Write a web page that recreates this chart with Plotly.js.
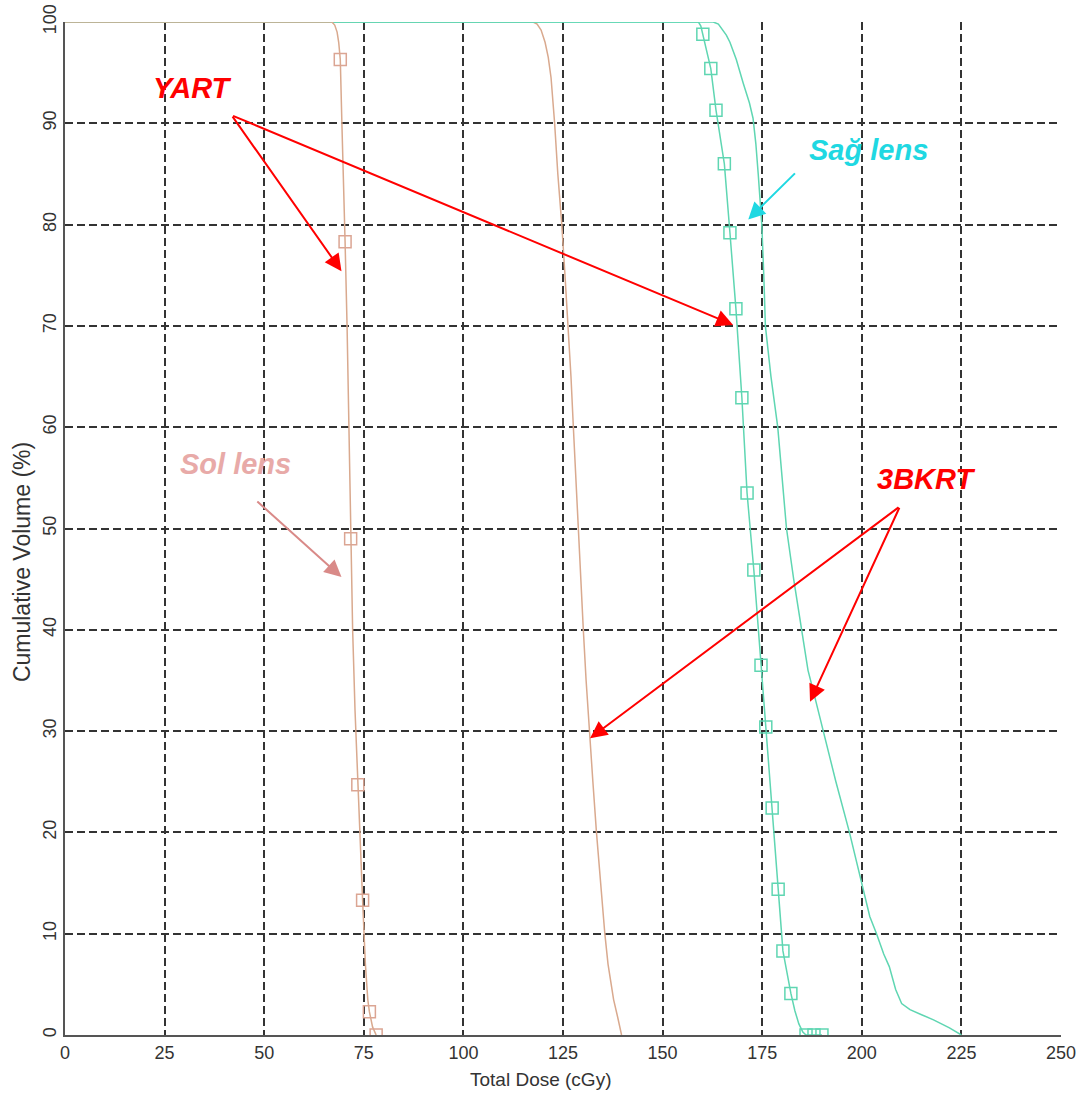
<!DOCTYPE html>
<html>
<head>
<meta charset="utf-8">
<script src="https://cdn.plot.ly/plotly-3.0.1.min.js"></script>
<style>
html,body{margin:0;padding:0;background:#fff;}
#chart{width:1089px;height:1102px;}
</style>
</head>
<body>
<div id="chart"></div>
<script>
// Sol lens, YART (line + square markers)
const solYartDose = [0, 67, 67.7, 68.3, 68.7, 69.1, 69.5, 70, 70.3, 70.8, 71.3, 71.7, 72.2, 72.8, 73.5, 74.1, 74.7, 75.4, 76.0, 76.4, 77.2, 78.1];
const solYartVol  = [100, 100, 99.7, 99, 98, 96.3, 90, 84, 78.3, 70, 60, 49, 40, 32, 24.7, 18, 13.3, 7, 3.5, 2.3, 0.8, 0];
const solYartMarkDose = [69.1, 70.3, 71.7, 73.5, 74.7, 76.4, 78.1];
const solYartMarkVol  = [96.3, 78.3, 49, 24.7, 13.3, 2.3, 0];

// Sol lens, 3BKRT
const sol3bDose = [0, 117.5, 118.5, 119.5, 120.5, 121.3, 122, 122.5, 122.9, 123.7, 124.7, 125.5, 126.3, 127, 127.6, 128.2, 128.8, 129.5, 130.1, 130.8, 131.6, 132.5, 133.4, 134.4, 135.5, 136.3, 137.0, 137.7, 138.7, 139.7];
const sol3bVol  = [100, 100, 99.8, 99.2, 98, 96.5, 94.5, 92, 90, 85, 80, 75, 70, 65, 60, 55, 50, 45, 40, 35, 30, 25, 20, 15, 10, 7, 5, 3.5, 1.8, 0];

// Sağ lens, YART (line + square markers)
const sagYartDose = [0, 159, 159.6, 160.1, 162.1, 163.4, 165.5, 166.9, 168.4, 169.9, 171.2, 172.9, 174.7, 175.9, 177.5, 179.0, 180.2, 182.2, 183.2, 184.2, 185.2, 186.0, 190.0];
const sagYartVol  = [100, 100, 99.6, 98.8, 95.4, 91.3, 86.0, 79.2, 71.7, 62.9, 53.5, 45.9, 36.5, 30.4, 22.4, 14.4, 8.3, 4.1, 2.4, 1.1, 0.3, 0, 0];
const sagYartMarkDose = [160.1, 162.1, 163.4, 165.5, 166.9, 168.4, 169.9, 171.2, 172.9, 174.7, 175.9, 177.5, 179.0, 180.2, 182.2, 186.0, 188.0, 190.0];
const sagYartMarkVol  = [98.8, 95.4, 91.3, 86.0, 79.2, 71.7, 62.9, 53.5, 45.9, 36.5, 30.4, 22.4, 14.4, 8.3, 4.1, 0, 0, 0];

// Sağ lens, 3BKRT
const sag3bDose = [0, 162.7, 164, 165, 166, 166.9, 168.5, 170.2, 171.8, 172.7, 173.4, 174, 174.9, 175.4, 175.8, 177.2, 178.9, 180, 181.1, 182.9, 184.9, 186.5, 187.8, 190.3, 193.5, 196.9, 199.9, 202, 203.7, 205.5, 206.9, 208.5, 210, 212.1, 215, 218, 222, 225];
const sag3bVol  = [100, 100, 99.8, 99.3, 98.7, 98, 96.3, 94, 92, 90.5, 88, 85, 80, 75, 70, 65, 60, 55, 50, 45, 40, 36, 34, 30, 25, 20, 15, 11.7, 10, 8, 6.75, 4.5, 3.1, 2.5, 2, 1.5, 0.7, 0];

const xTicks = [0, 25, 50, 75, 100, 125, 150, 175, 200, 225, 250];
const yTicks = [0, 10, 20, 30, 40, 50, 60, 70, 80, 90, 100];

const brown = '#d9a98e';
const green = '#5fd6b2';

const traces = [
  {x: sol3bDose, y: sol3bVol, mode: 'lines', line: {color: brown, width: 1.5}, hoverinfo: 'skip'},
  {x: sag3bDose, y: sag3bVol, mode: 'lines', line: {color: green, width: 1.5}, hoverinfo: 'skip'},
  {x: sagYartDose, y: sagYartVol, mode: 'lines', line: {color: green, width: 1.5}, hoverinfo: 'skip'},
  {x: sagYartMarkDose, y: sagYartMarkVol, mode: 'markers', marker: {symbol: 'square-open', size: 12, color: green, line: {width: 1.5}}, hoverinfo: 'skip'},
  {x: solYartDose, y: solYartVol, mode: 'lines', line: {color: brown, width: 1.5}, hoverinfo: 'skip'},
  {x: solYartMarkDose, y: solYartMarkVol, mode: 'markers', marker: {symbol: 'square-open', size: 12, color: '#dba593', line: {width: 1.5}}, hoverinfo: 'skip'}
];

const labelFont = (c) => ({family: 'Liberation Sans, Arial, sans-serif', size: 29, color: c, weight: 'bold', style: 'italic'});
const arrow = (x, y, ax, ay, c) => ({x: x, y: y, ax: ax, ay: ay, xref: 'x', yref: 'y', axref: 'x', ayref: 'y', text: '', showarrow: true, arrowhead: 2, arrowsize: 1.7, arrowwidth: 2, arrowcolor: c, standoff: 0});

const annotations = [
  {x: 31.9, y: 93.5, xref: 'x', yref: 'y', text: 'YART', showarrow: false, font: labelFont('#ff0000')},
  {x: 201.8, y: 87.4, xref: 'x', yref: 'y', text: 'Sağ lens', showarrow: false, font: labelFont('#1fd8e2')},
  {x: 42.7, y: 56.4, xref: 'x', yref: 'y', text: 'Sol lens', showarrow: false, font: labelFont('#e8aaa8')},
  {x: 216.1, y: 54.9, xref: 'x', yref: 'y', text: '3BKRT', showarrow: false, font: labelFont('#ff0000')},
  arrow(69.4, 75.4, 41.8, 90.8, '#ff0000'),
  arrow(167.7, 70.1, 41.8, 90.8, '#ff0000'),
  arrow(171.5, 80.5, 183.6, 85.2, '#1fd8e2'),
  arrow(69.4, 45.2, 47.9, 52.8, '#d98a88'),
  arrow(131.8, 29.3, 209.6, 52.2, '#ff0000'),
  arrow(187.0, 32.9, 209.6, 52.2, '#ff0000'),
  {xref: 'paper', yref: 'paper', x: 0.477, y: -0.044, text: 'Total Dose (cGy)', showarrow: false, xanchor: 'center', yanchor: 'middle',
   font: {family: 'Liberation Sans, Arial, sans-serif', size: 19, color: '#333'}},
  {xref: 'paper', yref: 'paper', x: -0.043, y: 0.467, text: 'Cumulative Volume (%)', showarrow: false, textangle: -90, xanchor: 'center', yanchor: 'middle',
   font: {family: 'Liberation Sans, Arial, sans-serif', size: 23, color: '#333'}}
];

const axisCommon = {
  showgrid: true, gridcolor: '#333', griddash: '8px,4px', gridwidth: 2,
  zeroline: false, showline: true, linecolor: '#555', linewidth: 2, mirror: false,
  ticks: '', tickfont: {family: 'Liberation Sans, Arial, sans-serif', size: 18, color: '#333'}
};

const layout = {
  width: 1089, height: 1102,
  margin: {l: 65, r: 28, t: 22, b: 67},
  paper_bgcolor: '#ffffff', plot_bgcolor: '#ffffff',
  showlegend: false,
  xaxis: Object.assign({range: [0, 250], tickmode: 'array', tickvals: xTicks, ticktext: xTicks.map(String)}, axisCommon),
  yaxis: Object.assign({range: [0, 100], tickmode: 'array', tickvals: yTicks, ticktext: yTicks.map(String), tickangle: -90}, axisCommon),
  annotations: annotations
};

Plotly.newPlot('chart', traces, layout, {displayModeBar: false, staticPlot: true});
</script>
</body>
</html>
